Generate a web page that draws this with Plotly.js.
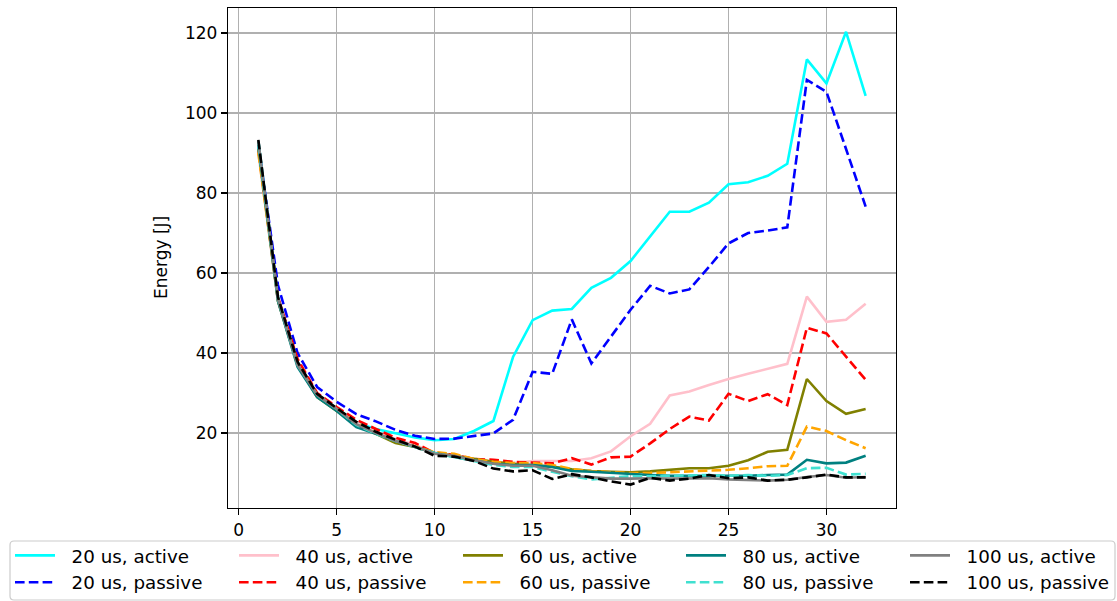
<!DOCTYPE html>
<html>
<head>
<meta charset="utf-8">
<script src="https://cdn.plot.ly/plotly-3.0.1.min.js"></script>
<style>
  html, body { margin: 0; padding: 0; background: #fff; }
  #chart { width: 1117px; height: 601px; }
</style>
</head>
<body>
<div id="chart"></div>
<script>
// Number of threads on the x axis
const threads = Array.from({length: 32}, (_, i) => i + 1);

// Energy [J] per polling interval, active and passive waiting
const active20  = [93, 54, 37, 29.5, 26, 22.5, 21, 19.9, 18.9, 18.2, 18.5, 20.5, 23, 39, 48.2, 50.6, 51, 56.3, 58.8, 63, 69.1, 75.3, 75.3, 77.6, 82.2, 82.7, 84.3, 87.3, 113.4, 107.4, 120.3, 104.3];
const passive20 = [92, 57, 40, 31.5, 27.8, 24.7, 22.9, 20.8, 19.3, 18.5, 18.6, 19.2, 19.9, 23.3, 35.3, 34.8, 48.4, 37.4, 44.1, 50.8, 56.8, 54.9, 55.9, 61.5, 67.4, 70, 70.6, 71.4, 108.3, 105.3, 91, 76.6];
const active40  = [90, 53, 37, 29.5, 26, 22.5, 20.3, 18.5, 17, 15, 14.5, 13.5, 12.8, 12.5, 13, 13, 13, 13.7, 15.4, 19.2, 22.3, 29.4, 30.4, 32, 33.5, 34.8, 36, 37.3, 54.1, 47.8, 48.3, 52.3];
const passive40 = [91, 54, 38.5, 30, 26.5, 23.3, 21, 18.8, 17.5, 15, 14.5, 13.5, 13.3, 12.8, 12.6, 12.4, 13.7, 12.1, 13.9, 14.1, 17.4, 21, 24.1, 23.1, 29.8, 28, 29.7, 27, 46.3, 44.9, 39.1, 33.3];
const active60  = [91, 53, 37, 29, 25.5, 22, 19.8, 17.5, 16.5, 15, 14.3, 13.5, 12.8, 12.3, 12, 11.6, 10.9, 10.5, 10.3, 10.2, 10.4, 10.8, 11.2, 11.2, 11.8, 13.2, 15.3, 15.8, 33.5, 28, 24.8, 26];
const passive60 = [90, 53.5, 37.5, 29.5, 26, 22.5, 20, 18, 16.7, 15.2, 14.8, 13.5, 12.8, 12.5, 12.5, 12, 11, 10.5, 10.2, 10, 10, 10.2, 10.4, 10.6, 10.8, 11.2, 11.7, 11.8, 21.6, 20.5, 18.2, 16.2];
const active80  = [92, 53, 36.5, 29, 25.5, 21.5, 19.8, 18, 16.5, 15, 14, 13.2, 12.3, 12, 12, 11.5, 10.5, 10.3, 10, 9.8, 9.5, 9.3, 9.3, 9.2, 9.3, 9.3, 9.5, 9.6, 13.3, 12.4, 12.6, 14.3];
const passive80 = [92, 53.5, 37, 29.5, 26, 22, 19.8, 18, 16.5, 15, 14, 13, 12, 11.5, 11.5, 10.3, 9.2, 8.4, 8.8, 9.2, 9.2, 9.3, 9.3, 9.5, 9.3, 9.5, 9.3, 9.5, 11.2, 11.3, 9.6, 9.8];
const active100  = [93, 53.5, 37, 29.5, 26, 22.2, 20, 18, 16.6, 14.8, 14.3, 13.2, 12.3, 11.8, 11.8, 10.7, 9.3, 9, 8.6, 8.6, 8.7, 8.6, 8.7, 8.7, 8.4, 8.3, 8.1, 8.3, 9, 9.5, 8.8, 9];
const passive100 = [93.3, 54, 37.8, 29.8, 26.2, 22.8, 20.3, 18.3, 16.6, 14.3, 14.1, 13, 11.1, 10.4, 10.7, 8.5, 9.7, 8.9, 7.9, 7.1, 8.8, 8.1, 8.6, 9.5, 8.7, 8.9, 8.1, 8.3, 8.9, 9.6, 8.9, 8.9];

const seriesNames = [
  '20 us, active', '20 us, passive', '40 us, active', '40 us, passive',
  '60 us, active', '60 us, passive', '80 us, active', '80 us, passive',
  '100 us, active', '100 us, passive'
];
const seriesValues = [active20, passive20, active40, passive40, active60, passive60,
                      active80, passive80, active100, passive100];
const seriesColors = ['#00ffff', '#0000ff', '#ffc0cb', '#ff0000', '#808000', '#ffa500',
                      '#008080', '#40e0d0', '#808080', '#000000'];

// Each interval gets its own legend column (active above passive)
const legendIds = ['legend', 'legend2', 'legend3', 'legend4', 'legend5'];

// two no-break spaces widen the gap between legend line and label
const legendPad = '\u00a0\u00a0';

const traces = seriesValues.map((vals, i) => ({
  type: 'scatter',
  mode: 'lines',
  x: threads,
  y: vals,
  name: legendPad + seriesNames[i],
  legend: legendIds[Math.floor(i / 2)],
  line: {
    color: seriesColors[i],
    width: 2.6,
    dash: (i % 2 === 1) ? '9.6px,4.2px' : 'solid'
  }
}));

const W = 1117, H = 601;
const plotL = 228, plotR = 896, plotT = 8, plotB = 508;
const pw = plotR - plotL, ph = plotB - plotT;
const px2x = p => (p - plotL) / pw;
const py2y = p => (plotB - p) / ph;

// Legend frame with rounded corners, in paper units
function roundedRect(x0, y0, x1, y1, r) {
  const rx = r / pw, ry = r / ph;
  const L = px2x(x0), R = px2x(x1), T = py2y(y0), B = py2y(y1);
  return `M${L + rx},${T} L${R - rx},${T} Q${R},${T} ${R},${T - ry} ` +
         `L${R},${B + ry} Q${R},${B} ${R - rx},${B} L${L + rx},${B} ` +
         `Q${L},${B} ${L},${B + ry} L${L},${T - ry} Q${L},${T} ${L + rx},${T} Z`;
}

const baseFont = {family: 'DejaVu Sans', size: 17, color: '#000'};
const legendFont = {family: 'DejaVu Sans', size: 18.3, color: '#000'};
const colStarts = [10, 234, 458, 681, 905];
const layout = {
  width: W, height: H,
  margin: {l: plotL, r: W - plotR, t: plotT, b: H - plotB, pad: 0, autoexpand: false},
  paper_bgcolor: '#fff',
  plot_bgcolor: '#fff',
  font: baseFont,
  showlegend: true,
  xaxis: {
    range: [-0.55, 33.55],
    tickvals: [0, 5, 10, 15, 20, 25, 30],
    ticks: 'outside', ticklen: 6, tickwidth: 1.2, tickcolor: '#000',
    showline: true, linecolor: '#000', linewidth: 1.2, mirror: true,
    showgrid: true, gridcolor: '#b0b0b0', gridwidth: 1.2,
    zeroline: false, automargin: false,
    tickfont: baseFont
  },
  yaxis: {
    range: [1.25, 126.25],
    tickvals: [20, 40, 60, 80, 100, 120],
    ticks: 'outside', ticklen: 6, tickwidth: 1.2, tickcolor: '#000',
    showline: true, linecolor: '#000', linewidth: 1.2, mirror: true,
    showgrid: true, gridcolor: '#b0b0b0', gridwidth: 1.2,
    zeroline: false, automargin: false,
    tickfont: baseFont
  },
  annotations: [{
    text: 'Energy [J]', textangle: -90,
    xref: 'paper', yref: 'paper',
    x: px2x(161), y: 0.5, xanchor: 'center', yanchor: 'middle',
    showarrow: false, font: baseFont
  }],
  shapes: [{
    type: 'path', xref: 'paper', yref: 'paper', layer: 'below',
    path: roundedRect(10, 541, 1115, 600, 4),
    line: {color: '#cccccc', width: 1.2},
    fillcolor: 'rgba(255,255,255,0.8)'
  }]
};

legendIds.forEach((id, k) => {
  layout[id] = {
    xref: 'container', yref: 'container',
    x: colStarts[k] / W, xanchor: 'left',
    y: 1 - 537 / H, yanchor: 'top',
    orientation: 'v',
    bgcolor: 'rgba(0,0,0,0)', borderwidth: 0,
    font: legendFont,
    itemwidth: 40,
    tracegroupgap: 0
  };
});

Plotly.newPlot('chart', traces, layout, {displayModeBar: false, staticPlot: true});
</script>
</body>
</html>
